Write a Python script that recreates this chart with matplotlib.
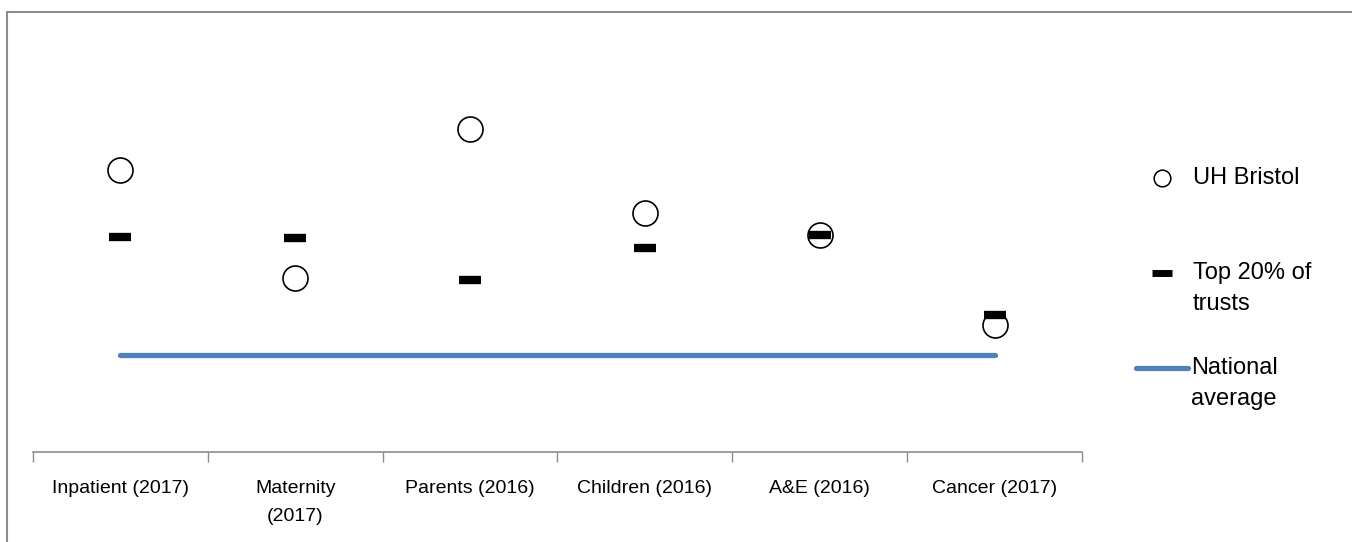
import matplotlib.pyplot as plt
from matplotlib.patches import Rectangle
from matplotlib.lines import Line2D

# Dados (escala arbitrária)
categorias = ['Inpatient (2017)', 'Maternity\n(2017)', 'Parents (2016)',
              'Children (2016)', 'A&E (2016)', 'Cancer (2017)']
uh_bristol = [68.4, 42.2, 78.4, 58.0, 52.7, 30.8]
top20 = [52.2, 51.9, 41.7, 49.5, 52.7, 33.3]
media_nacional = 23.5

plt.rcParams['font.family'] = ['Liberation Sans', 'DejaVu Sans']

W, H = 1352, 542
fig = plt.figure(figsize=(W / 100, H / 100), dpi=100)


def fx(px):
    return px / W


def fy(py):
    return 1 - py / H


# moldura da área do gráfico
fig.add_artist(Rectangle((fx(7), -0.1), 1.2, fy(12) + 0.1,
                         transform=fig.transFigure, fill=False,
                         edgecolor='#8c8c8c', linewidth=1.5))

ax = fig.add_axes([fx(33), fy(452), 1049 / W, 412 / H])
x = list(range(len(categorias)))

ax.plot([x[0], x[-1]], [media_nacional, media_nacional], color='#4F81BD',
        linewidth=3.8, solid_capstyle='round', zorder=2)
ax.plot(x, uh_bristol, linestyle='none', marker='o', markersize=18,
        markerfacecolor='white', markeredgecolor='black', markeredgewidth=1.2,
        zorder=3)
ax.plot(x, top20, linestyle='none', marker='_', markersize=16,
        markeredgewidth=6, color='black', zorder=4)

ax.set_xlim(-0.5, len(categorias) - 0.5)
ax.set_ylim(0, 100)

# eixo de categorias: traços nas divisas, rótulos nos centros
ax.set_xticks([i - 0.5 for i in range(len(categorias) + 1)])
ax.set_xticklabels([])
ax.tick_params(axis='x', which='major', direction='out', length=7,
               color='#8c8c8c', width=1)
ax.set_xticks(x, minor=True)
ax.set_xticklabels(categorias, minor=True, fontsize=14, linespacing=1.9)
ax.tick_params(axis='x', which='minor', length=0, pad=20)
ax.set_yticks([])
for s in ['top', 'right', 'left']:
    ax.spines[s].set_visible(False)
ax.spines['bottom'].set_color('#8c8c8c')
ax.spines['bottom'].set_linewidth(1.2)

# legenda desenhada à mão (chave alinhada com a primeira linha do texto)
fs = 17
fig.add_artist(Line2D([fx(1162)], [fy(178)], marker='o', markersize=12,
                      markerfacecolor='white', markeredgecolor='black',
                      markeredgewidth=1.1, transform=fig.transFigure))
fig.text(fx(1193), fy(178), 'UH Bristol', fontsize=fs, va='center')
fig.add_artist(Line2D([fx(1162)], [fy(273)], marker='_', markersize=14,
                      markeredgewidth=5, color='black',
                      transform=fig.transFigure))
fig.text(fx(1193), fy(273), 'Top 20% of', fontsize=fs, va='center')
fig.text(fx(1193), fy(304), 'trusts', fontsize=fs, va='center')
fig.add_artist(Line2D([fx(1136), fx(1188)], [fy(368), fy(368)],
                      color='#4F81BD', linewidth=3.8, solid_capstyle='round',
                      transform=fig.transFigure))
fig.text(fx(1191), fy(368), 'National', fontsize=fs, va='center')
fig.text(fx(1191), fy(399), 'average', fontsize=fs, va='center')

fig.savefig('out.png', dpi=100)
